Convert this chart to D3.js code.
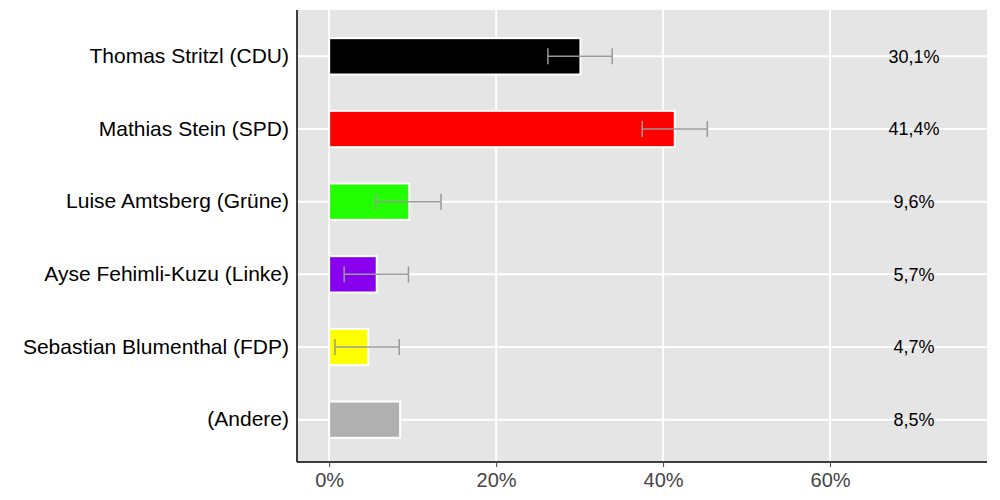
<!DOCTYPE html>
<html><head><meta charset="utf-8">
<script src="https://cdn.jsdelivr.net/npm/d3@7"></script>
<style>body{margin:0;background:#fff}</style></head><body>
<svg id="c" width="1000" height="500"></svg>
<script>
const categories=["Thomas Stritzl (CDU)","Mathias Stein (SPD)","Luise Amtsberg (Grüne)","Ayse Fehimli-Kuzu (Linke)","Sebastian Blumenthal (FDP)","(Andere)"];
const values=[30.1,41.4,9.6,5.7,4.7,8.5];
const lows=[26.2,37.5,5.6,1.8,0.7,null];
const highs=[33.9,45.3,13.4,9.5,8.4,null];
const colors=["#000000","#ff0000","#22ff00","#8800ee","#ffff00","#b0b0b0"];
const labels=["30,1%","41,4%","9,6%","5,7%","4,7%","8,5%"];
const ticks=[0,20,40,60];
const L=297,R=987,T=10,B=462;
const F="Liberation Sans, Arial, sans-serif";
const svg=d3.select("#c");
const x=d3.scaleLinear().domain([-3.85,78.8]).range([L,R]);
const y=d3.scaleBand().domain(categories).range([T+10,B-6]).paddingInner(0.5).paddingOuter(0.25);
svg.append("rect").attr("x",L).attr("y",T).attr("width",R-L).attr("height",B-T).attr("fill","#e5e5e5");
svg.selectAll(".vg").data(ticks).join("line").attr("x1",d=>x(d)).attr("x2",d=>x(d)).attr("y1",T).attr("y2",B).attr("stroke","#fff").attr("stroke-width",2);
svg.selectAll(".hg").data(categories).join("line").attr("x1",L).attr("x2",R).attr("y1",d=>y(d)+y.bandwidth()/2).attr("y2",d=>y(d)+y.bandwidth()/2).attr("stroke","#fff").attr("stroke-width",2);
svg.selectAll(".bar").data(categories).join("rect").attr("x",x(0)).attr("y",d=>y(d)).attr("width",(d,i)=>x(values[i])-x(0)).attr("height",y.bandwidth()).attr("fill",(d,i)=>colors[i]).attr("stroke","#fff").attr("stroke-width",2);
categories.forEach((c,i)=>{
  const cy=y(c)+y.bandwidth()/2;
  if(lows[i]!=null){
    const g=svg.append("g").attr("stroke","#999").attr("stroke-width",1.5);
    g.append("line").attr("x1",x(lows[i])).attr("x2",x(highs[i])).attr("y1",cy).attr("y2",cy);
    [lows[i],highs[i]].forEach(v=>g.append("line").attr("x1",x(v)).attr("x2",x(v)).attr("y1",cy-8).attr("y2",cy+8));
  }
  svg.append("text").attr("x",914).attr("y",cy).attr("dy","0.35em").attr("text-anchor","middle").attr("font-family",F).attr("font-size",18).text(labels[i]);
});
const ya=svg.append("g").attr("transform",`translate(${L},0)`).call(d3.axisLeft(y).tickSize(0).tickPadding(8));
ya.selectAll("text").attr("font-size",21).attr("fill","#000").attr("font-family",F);
ya.select(".domain").attr("stroke","#000").attr("stroke-width",1.5).attr("d",`M0,${T}V${B}`);
const xa=svg.append("g").attr("transform",`translate(0,${B})`).call(d3.axisBottom(x).tickValues(ticks).tickFormat(d=>d+"%").tickSize(5).tickPadding(6));
xa.selectAll("text").attr("font-size",20).attr("fill","#444").attr("font-family",F);
xa.selectAll(".tick line").attr("stroke","#444");
xa.select(".domain").attr("stroke","#000").attr("stroke-width",1.5).attr("d",`M${L},0H${R}`);
</script></body></html>
